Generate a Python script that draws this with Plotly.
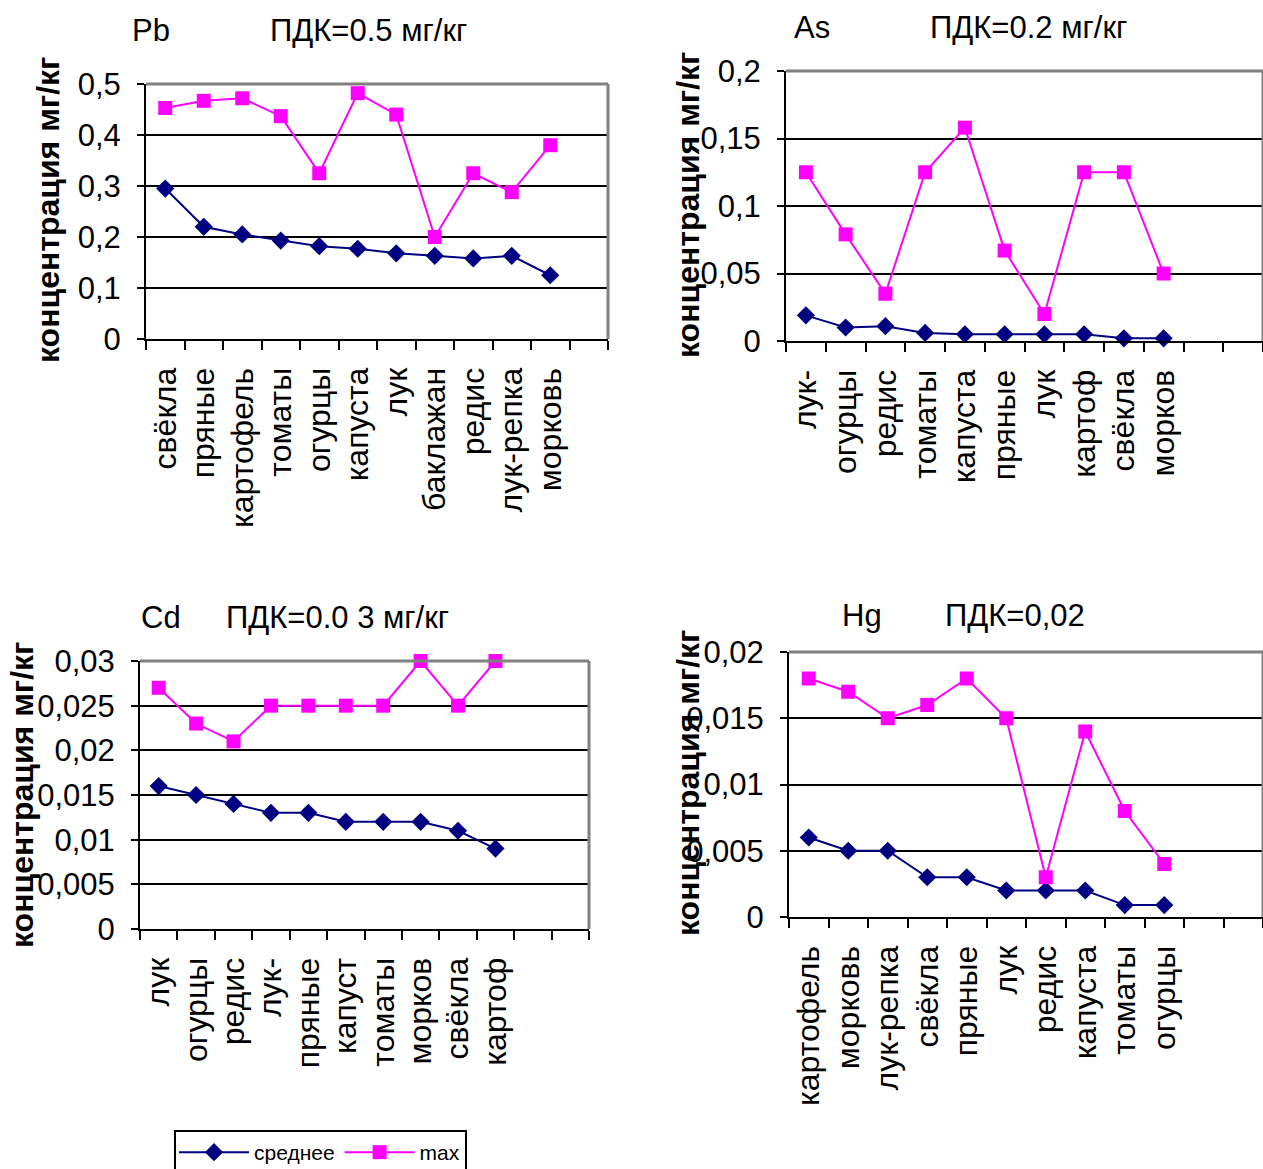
import plotly.graph_objects as go

W, H = 1263, 1169

# ---- data ----
pb_cats = ["свёкла", "пряные", "картофель", "томаты", "огурцы", "капуста", "лук",
           "баклажан", "редис", "лук-репка", "морковь"]
pb_mean = [0.295, 0.220, 0.205, 0.193, 0.182, 0.177, 0.168, 0.163, 0.158, 0.163, 0.125]
pb_max = [0.453, 0.467, 0.472, 0.437, 0.325, 0.482, 0.440, 0.200, 0.325, 0.288, 0.380]

as_cats = ["лук-", "огурцы", "редис", "томаты", "капуста", "пряные", "лук",
           "картоф", "свёкла", "морков"]
as_mean = [0.019, 0.010, 0.011, 0.006, 0.005, 0.005, 0.005, 0.005, 0.002, 0.002]
as_max = [0.125, 0.079, 0.035, 0.125, 0.158, 0.067, 0.020, 0.125, 0.125, 0.050]

cd_cats = ["лук", "огурцы", "редис", "лук-", "пряные", "капуст", "томаты",
           "морков", "свёкла", "картоф"]
cd_mean = [0.016, 0.015, 0.014, 0.013, 0.013, 0.012, 0.012, 0.012, 0.011, 0.009]
cd_max = [0.027, 0.023, 0.021, 0.025, 0.025, 0.025, 0.025, 0.030, 0.025, 0.030]

hg_cats = ["картофель", "морковь", "лук-репка", "свёкла", "пряные", "лук", "редис",
           "капуста", "томаты", "огурцы"]
hg_mean = [0.006, 0.005, 0.005, 0.003, 0.003, 0.002, 0.002, 0.002, 0.0009, 0.0009]
hg_max = [0.018, 0.017, 0.015, 0.016, 0.018, 0.015, 0.003, 0.014, 0.008, 0.004]

series_names = ["среднее", "max"]
n_slots = 12

panels = [
    dict(cats=pb_cats, mean=pb_mean, mx=pb_max, ymax=0.5, dtick=0.1,
         px=(146, 608), py=(84, 339), el="Pb", el_x=130, pdk="ПДК=0.5 мг/кг", pdk_x=268, t_y=30,
         yt_x=48, yt_y=210),
    dict(cats=as_cats, mean=as_mean, mx=as_max, ymax=0.2, dtick=0.05,
         px=(786, 1263), py=(71, 341), el="As", el_x=792, pdk="ПДК=0.2 мг/кг", pdk_x=928, t_y=28,
         yt_x=688, yt_y=205),
    dict(cats=cd_cats, mean=cd_mean, mx=cd_max, ymax=0.03, dtick=0.005,
         px=(140, 589), py=(661, 929), el="Cd", el_x=139, pdk="ПДК=0.0 3 мг/кг", pdk_x=224, t_y=617,
         yt_x=22, yt_y=795),
    dict(cats=hg_cats, mean=hg_mean, mx=hg_max, ymax=0.02, dtick=0.005,
         px=(789, 1263), py=(652, 917), el="Hg", el_x=840, pdk="ПДК=0,02", pdk_x=943, t_y=615,
         yt_x=688, yt_y=783),
]

FONT = "Liberation Sans, Arial, sans-serif"
fig = go.Figure()
annotations = []
shapes = []

for i, p in enumerate(panels, start=1):
    xa = "x" if i == 1 else f"x{i}"
    ya = "y" if i == 1 else f"y{i}"
    xs = list(range(len(p["cats"])))
    fig.add_trace(go.Scatter(
        x=xs, y=p["mean"], xaxis=xa, yaxis=ya, mode="lines+markers",
        name=series_names[0], legendgroup="mean", showlegend=(i == 1),
        line=dict(color="#000080", width=2),
        marker=dict(symbol="diamond", size=14, color="#000080"),
        cliponaxis=False))
    fig.add_trace(go.Scatter(
        x=xs, y=p["mx"], xaxis=xa, yaxis=ya, mode="lines+markers",
        name=series_names[1], legendgroup="max", showlegend=(i == 1),
        line=dict(color="#FF00FF", width=2),
        marker=dict(symbol="square", size=14, color="#FF00FF"),
        cliponaxis=False))

    dom_x = [p["px"][0] / W, min(p["px"][1] / W, 1.0)]
    dom_y = [1 - p["py"][1] / H, 1 - p["py"][0] / H]
    xkey = "xaxis" if i == 1 else f"xaxis{i}"
    ykey = "yaxis" if i == 1 else f"yaxis{i}"
    fig.layout[xkey] = dict(
        domain=dom_x, anchor=ya, range=[-0.5, n_slots - 0.5], automargin=False,
        tickmode="array", tickvals=xs, ticktext=p["cats"], tickangle=-90,
        ticks="", ticklabelstandoff=14,
        tickfont=dict(size=32, color="black", family=FONT),
        showgrid=False, zeroline=False,
        showline=True, linecolor="black", linewidth=2,
        minor=dict(tickmode="array", tickvals=[k - 0.5 for k in range(n_slots + 1)],
                   ticks="outside", ticklen=9, tickwidth=2, tickcolor="black", showgrid=False),
    )
    nt = int(round(p["ymax"] / p["dtick"]))
    fig.layout[ykey] = dict(
        domain=dom_y, anchor=xa, range=[0, p["ymax"]], automargin=False,
        tickmode="array", tickvals=[round(k * p["dtick"], 6) for k in range(nt + 1)],
        ticks="outside", ticklen=7, tickwidth=2, tickcolor="black",
        ticklabelstandoff=10,
        tickfont=dict(size=31, color="black", family=FONT),
        showgrid=True, gridcolor="black", gridwidth=2, zeroline=False,
        showline=True, linecolor="black", linewidth=2,
    )
    # plot-area border (top & right, gray)
    shapes.append(dict(type="line", xref=f"{xa} domain", yref=f"{ya} domain",
                       x0=0, x1=1, y0=1, y1=1, line=dict(color="#808080", width=3), layer="above"))
    shapes.append(dict(type="line", xref=f"{xa} domain", yref=f"{ya} domain",
                       x0=1, x1=1, y0=0, y1=1, line=dict(color="#808080", width=3), layer="above"))

    annotations.append(dict(text=p["el"], x=p["el_x"] / W, y=1 - p["t_y"] / H, xref="paper", yref="paper",
                            xanchor="left", yanchor="middle", showarrow=False,
                            font=dict(size=31, color="black", family=FONT)))
    annotations.append(dict(text=p["pdk"], x=p["pdk_x"] / W, y=1 - p["t_y"] / H, xref="paper", yref="paper",
                            xanchor="left", yanchor="middle", showarrow=False,
                            font=dict(size=31, color="black", family=FONT)))
    annotations.append(dict(text="<b>концентрация мг/кг</b>", x=p["yt_x"] / W, y=1 - p["yt_y"] / H,
                            xref="paper", yref="paper", xanchor="center", yanchor="middle",
                            textangle=-90, showarrow=False,
                            font=dict(size=32, color="black", family=FONT)))

fig.update_layout(
    width=W, height=H, margin=dict(l=0, r=0, t=0, b=0, autoexpand=False),
    paper_bgcolor="white", plot_bgcolor="white",
    separators=", ",
    font=dict(family=FONT, color="black"),
    annotations=annotations, shapes=shapes,
    showlegend=True,
    legend=dict(orientation="h", x=174 / W, y=1 - 1130 / H, xanchor="left", yanchor="top",
                bordercolor="black", borderwidth=2, bgcolor="white",
                font=dict(size=21, color="black", family=FONT), itemwidth=70),
)

fig.write_html("out.html")
